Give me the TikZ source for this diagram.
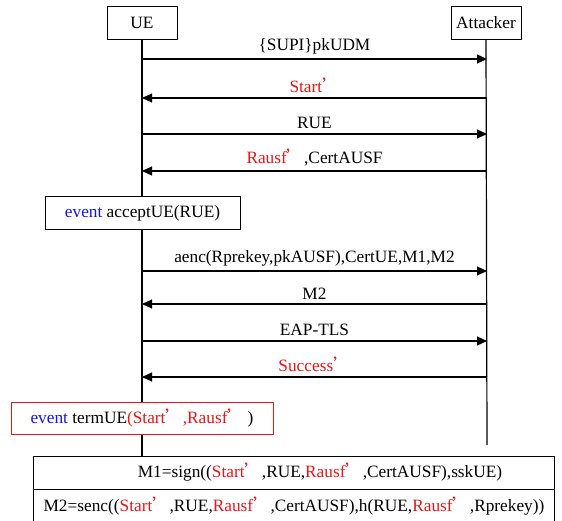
\documentclass[tikz,border=0pt]{standalone}
\usepackage{fontspec}
\setmainfont{Liberation Serif}
\newfontfamily\cjk{Noto Sans CJK SC}
\usetikzlibrary{arrows.meta}
\definecolor{keyred}{RGB}{232,22,22}
\definecolor{evblue}{RGB}{22,22,225}
\newcommand{\pr}{{\cjk ’}}
\newcommand{\kr}[1]{\textcolor{keyred}{#1}}
\newcommand{\ev}{\textcolor{evblue}{event}}

\begin{document}
\begin{tikzpicture}[x=1pt, y=-1pt, font=\fontsize{17.3}{20}\selectfont,
  actor/.style={draw, line width=1pt, fill=white, minimum width=70pt, minimum height=33pt, inner sep=0pt},
  evbox/.style={draw, line width=1pt, fill=white, minimum height=33pt, inner sep=0pt},
  msg/.style={line width=1.2pt, -{Triangle[length=10pt, width=9pt]}},
  life/.style={line width=1.2pt}]
  \useasboundingbox (0,0) rectangle (562,521);

  \draw node[actor] (ue) at (142, 23) {UE};
  \draw node[actor] (att) at (486, 23) {Attacker};

  \coordinate (ueend) at (142, 456);
  \coordinate (attend) at (487, 445);
  \draw[life] (ue.south) -- (ueend);
  \draw[life] (att.south) -- (attend);

  \foreach \i/\y in {1/59, 2/98, 3/134, 4/171, 5/271, 6/304, 7/341, 8/377} {
    \coordinate (u\i) at (142, \y);
    \coordinate (a\i) at (487, \y);
  }

  \draw[msg] (u1) -- (a1) node[midway, above=1pt] {\{SUPI\}pkUDM};
  \draw[msg] (a2) -- (u2) node[midway, above=1pt] {\kr{Start\pr}};
  \draw[msg] (u3) -- (a3) node[midway, above=1pt] {RUE};
  \draw[msg] (a4) -- (u4) node[midway, above=1pt] {\kr{Rausf\pr},CertAUSF};

  \node[evbox, minimum width=195pt] (acc) at (142.5, 213.5) {\ev{} acceptUE(RUE)};

  \draw[msg] (u5) -- (a5) node[midway, above=1pt] {aenc(Rprekey,pkAUSF),CertUE,M1,M2};
  \draw[msg] (a6) -- (u6) node[midway, above=1pt] {M2};
  \draw[msg] (u7) -- (a7) node[midway, above=1pt] {EAP-TLS};
  \draw[msg] (a8) -- (u8) node[midway, above=1pt] {\kr{Success\pr}};

  \node[evbox, draw=keyred, minimum width=262pt, minimum height=32pt] (term) at (142, 418)
    {\ev{} termUE\kr{(Start\pr,Rausf\pr}\,)};

  % definitions of M1 and M2
  \draw[line width=1pt] (33, 521) -- (33, 456) -- (554, 456) -- (554, 521);
  \draw[line width=1pt] (33, 489) -- (554, 489);
  \node (m1) at (320, 472) {M1=sign((\kr{Start\pr},RUE,\kr{Rausf\pr},CertAUSF),sskUE)};
  \node (m2) at (294, 506) {M2=senc((\kr{Start\pr},RUE,\kr{Rausf\pr},CertAUSF),h(RUE,\kr{Rausf\pr},Rprekey))};

\end{tikzpicture}
\end{document}
